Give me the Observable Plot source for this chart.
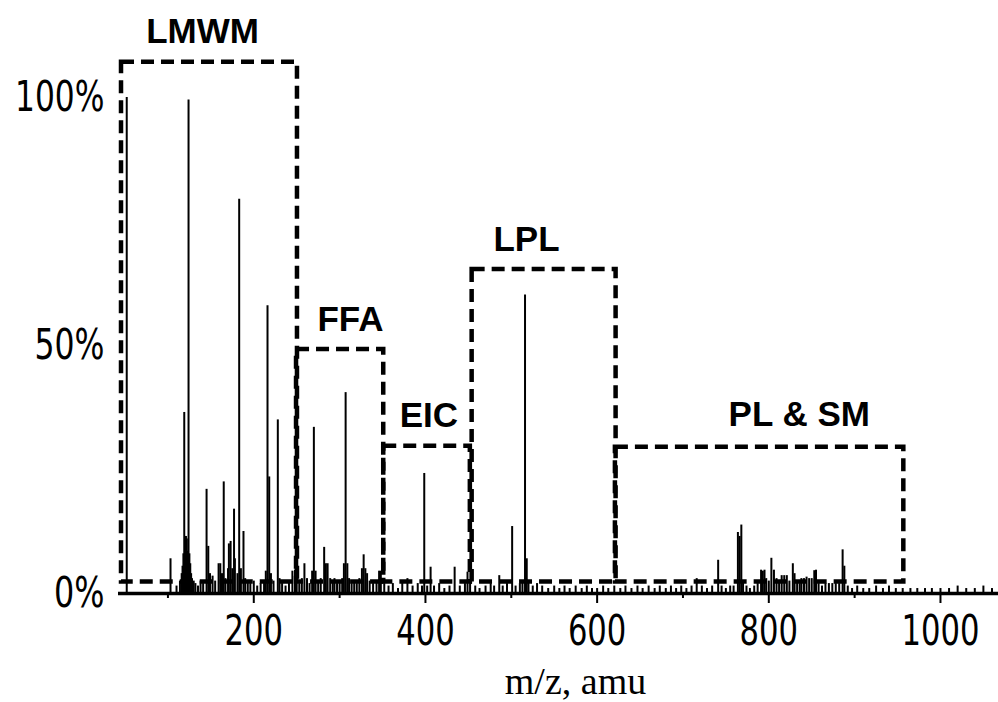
<!DOCTYPE html>
<html>
<head>
<meta charset="utf-8">
<script src="https://cdn.jsdelivr.net/npm/d3@7"></script>
<script src="https://cdn.jsdelivr.net/npm/@observablehq/plot@0.6"></script>
<style>
  body { margin: 0; background: white; }
  #chart svg { display: block; }
</style>
</head>
<body>
<div id="chart"></div>
<script>
// Peak list (m/z, relative intensity %)
const mz = [52, 103, 110, 114, 116, 117, 118, 119, 120, 121, 122, 123, 124, 125, 126, 127, 128, 130, 132, 135, 138, 141, 145, 147, 149, 152, 155, 159, 161, 163, 165, 167, 170, 171, 173, 175, 177, 178, 181, 183, 185, 188, 190, 193, 196, 200, 204, 208, 212, 214, 216, 218, 220, 223, 228, 230, 233, 237, 241, 245, 248, 250, 253, 256, 259, 262, 265, 268, 270, 272, 275, 278, 282, 284, 286, 289, 292, 294, 297, 300, 303, 305, 307, 309, 311, 314, 317, 320, 323, 326, 328, 330, 332, 335, 339, 343, 346, 348, 352, 357, 362, 368, 373, 379, 385, 391, 396, 398.6, 402, 406, 410, 416, 422, 428, 434, 440, 446, 449, 452, 458, 463, 470, 476, 480, 486, 490, 495, 501, 505, 510, 513, 516, 518, 520, 525, 530, 536, 543, 550, 556, 562, 568, 575, 582, 588, 594, 600, 607, 613, 620, 627, 633, 640, 647, 653, 660, 667, 673, 680, 686, 692, 698, 704, 710, 716, 722, 728, 734, 741, 745, 750, 755, 759, 764, 766, 768, 770, 774, 778, 783, 787, 791, 793, 795, 797, 800, 803, 806, 809, 812, 815, 818, 821, 824, 828, 830, 833, 836, 838, 841, 844, 847, 850, 853, 855, 858, 862, 866, 870, 874, 878, 882, 886, 888, 892, 897, 903, 910, 917, 925, 933, 940, 948, 956, 965, 973, 982, 990, 1000, 1010, 1020, 1030, 1040, 1050, 1060];
const intensity = [100, 7, 1.5, 2.5, 4, 5.5, 8, 36.5, 10, 11.5, 11, 8.5, 99.5, 8, 6, 4, 3, 2.5, 2, 1.5, 2.5, 2, 21, 9.5, 4, 3.5, 2.5, 6, 6, 4, 22.5, 3, 5, 10, 10.5, 5, 17, 7, 4, 79.5, 5, 12.5, 3, 2.5, 2, 2.5, 1.5, 2, 2.5, 4.5, 58, 23.5, 4, 2.5, 35, 3, 2, 1.5, 2.5, 4.5, 4.7, 3, 2, 3, 6, 3, 2, 4.5, 33.5, 4.5, 2.5, 3, 9.3, 6, 6, 3, 2.5, 3, 2, 2.5, 3, 6, 40.5, 6, 3, 2, 2.5, 2, 3, 5, 7.8, 5, 4, 2.5, 2, 2.5, 4.5, 4.5, 2, 1.5, 2, 1, 2.5, 3, 1.5, 2, 1.5, 24.2, 1.5, 5.3, 1.5, 2, 1, 1.5, 5.3, 1.5, 2, 4.3, 2, 1.5, 1, 1.5, 2, 1.5, 3.6, 1.5, 2, 13.5, 1.5, 2, 2.5, 60.2, 7, 2.5, 1.5, 2, 1.5, 1, 1.5, 1, 1.5, 1, 1.5, 1, 1.5, 1, 1, 1.5, 1, 1.5, 1, 1.5, 1, 1.5, 1, 1.5, 1, 1.5, 1, 1.5, 1, 1.5, 1, 1.5, 3, 1.5, 1, 1.5, 6.7, 1.5, 1, 1.5, 1.5, 12.3, 11.5, 13.8, 2.5, 1.5, 1, 1.5, 2, 4.7, 4.5, 4.7, 3, 2.5, 7.1, 4.7, 3, 2.5, 3.6, 3.6, 3.6, 2.5, 6, 4, 2.5, 2, 3, 3, 3.3, 3, 3, 4.6, 4.7, 2, 1.5, 2, 2, 2, 2, 2, 8.8, 5.5, 1.5, 1, 1.5, 1, 1, 1.5, 1, 1.5, 1, 1, 1, 1, 1, 1, 1, 1, 1.5, 1, 1, 1.5, 1];

// Highlighted regions (dashed boxes)
const regionNames = ["LMWM", "FFA", "EIC", "LPL", "PL & SM"];
const regionStart = [45.9, 249.8, 351.4, 454.4, 621.3];
const regionEnd = [250.9, 351.4, 452.3, 622.1, 957.3];
const regionTop = [107.1, 49.2, 29.7, 65.3, 29.5];
const regionBottom = 2.3;
const labelMz = [140.3, 312.7, 404.0, 517.7, 835.5];
const labelLevel = [111.0, 52.9, 33.5, 69.0, 33.7];

// Axis ticks
const xMajorTicks = [200, 400, 600, 800, 1000];
const xMinorTicks = [100, 300, 500, 700, 900];
const yTicks = [0, 50, 100];
const xLabel = "m/z, amu";

const peaks = mz.map((m, i) => ({mz: m, intensity: intensity[i]}));
const regions = regionNames.map((n, i) => ({
  name: n, start: regionStart[i], end: regionEnd[i], top: regionTop[i],
  lx: labelMz[i], ly: labelLevel[i]
}));

const tickFont = "'DejaVu Sans', sans-serif";

const chart = Plot.plot({
  width: 998,
  height: 702,
  marginLeft: 118,
  marginRight: 0,
  marginTop: 97,
  marginBottom: 109,
  x: {domain: [42.4, 1067.6]},
  y: {domain: [0, 100]},
  style: {background: "white", color: "black", overflow: "visible"},
  marks: [
    Plot.ruleX(peaks, {x: "mz", y1: () => 0, y2: "intensity", stroke: "black", strokeWidth: 2}),
    Plot.ruleY([0], {stroke: "black", strokeWidth: 3.5}),
    Plot.axisX({ticks: xMajorTicks, tickSize: 10, strokeWidth: 2, tickPadding: 12,
      tickFormat: d => String(d), fontSize: 42, fontFamily: tickFont, label: null}),
    Plot.axisX({ticks: xMinorTicks, tickSize: 5, strokeWidth: 2, tickFormat: () => "", label: null}),
    Plot.axisY({ticks: yTicks, tickSize: 0, tickPadding: 14, tickFormat: d => d + "%",
      fontSize: 42, fontFamily: tickFont, label: null}),
    Plot.rect(regions, {x1: "start", x2: "end", y1: () => regionBottom, y2: "top",
      fill: "none", stroke: "black", strokeWidth: 4.5, strokeDasharray: "13,7"}),
    Plot.text(regions, {x: "lx", y: "ly", text: "name", lineAnchor: "bottom",
      fontSize: 35, fontWeight: "bold", fontFamily: "'Liberation Sans', Arial, sans-serif", fill: "black"}),
    Plot.text([xLabel], {text: d => d, frameAnchor: "bottom", dx: 17, dy: 100, lineAnchor: "bottom",
      fontSize: 38, fontFamily: "'Liberation Serif', 'Times New Roman', serif", fill: "black"})
  ]
});
document.getElementById("chart").appendChild(chart);

// Condense the tick label glyphs horizontally (tall, narrow digits as in the original)
chart.querySelectorAll('g[aria-label="x-axis tick label"] text, g[aria-label="y-axis tick label"] text')
  .forEach(t => {
    const s = t.textContent;
    if (!s) return;
    const w = s.replace(/%/g, "").length * 19.5 + (s.includes("%") ? 31 : 0);
    t.setAttribute("textLength", w);
    t.setAttribute("lengthAdjust", "spacingAndGlyphs");
  });
</script>
</body>
</html>
